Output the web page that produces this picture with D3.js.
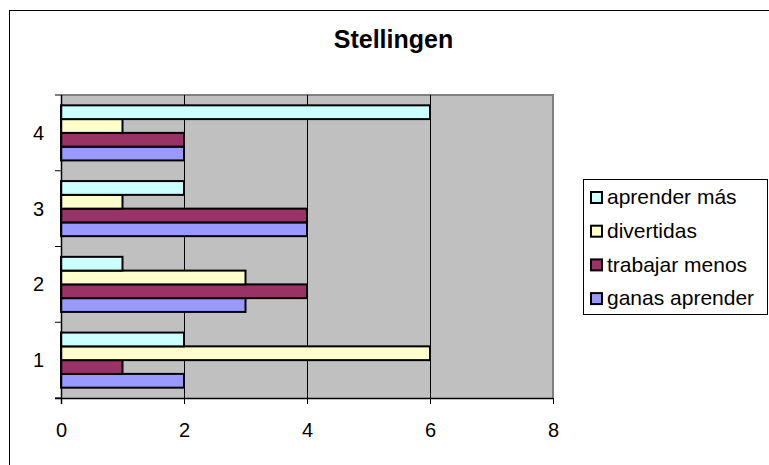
<!DOCTYPE html>
<html>
<head>
<meta charset="utf-8">
<script src="https://cdn.jsdelivr.net/npm/d3@7"></script>
<style>
  html, body { margin: 0; padding: 0; background: #fff; }
  svg { display: block; font-family: Arial, "Liberation Sans", sans-serif; }
</style>
</head>
<body>
<svg id="chart" width="769" height="465"></svg>
<script>
// Categories (bottom to top) and series values
const categories = ["1", "2", "3", "4"];
const seriesNames = ["ganas aprender", "trabajar menos", "divertidas", "aprender más"];
const ganasAprender = [2, 3, 4, 2];
const trabajarMenos = [1, 4, 4, 2];
const divertidas   = [6, 3, 1, 1];
const aprenderMas  = [2, 1, 2, 6];
const xTicks = [0, 2, 4, 6, 8];
const seriesColors = ["#9999FF", "#993366", "#FFFFCC", "#CCFFFF"];
const chartTitle = "Stellingen";

const seriesValues = [ganasAprender, trabajarMenos, divertidas, aprenderMas];

const svg = d3.select("#chart");

// Chart frame
svg.append("rect")
  .attr("x", 9.5).attr("y", 10.5)
  .attr("width", 800).attr("height", 500)
  .attr("fill", "#fff").attr("stroke", "#000").attr("stroke-width", 1);

const plot = { left: 61, right: 553, top: 95, bottom: 398 };

const x = d3.scaleLinear().domain([0, 8]).range([plot.left, plot.right]);
const y = d3.scaleBand().domain(categories.slice().reverse())
  .range([plot.top, plot.bottom]).paddingInner(0).paddingOuter(0);

// Plot area background
svg.append("rect")
  .attr("x", plot.left).attr("y", plot.top)
  .attr("width", plot.right - plot.left).attr("height", plot.bottom - plot.top)
  .attr("fill", "#C0C0C0");

// Plot area border (top and right)
svg.append("path")
  .attr("d", `M${plot.left},${plot.top} H${plot.right} V${plot.bottom}`)
  .attr("fill", "none").attr("stroke", "#808080").attr("stroke-width", 2);

// Vertical gridlines
svg.append("g").selectAll("line")
  .data(xTicks.filter(t => t > 0 && t < 8))
  .join("line")
  .attr("x1", d => x(d) + 0.5).attr("x2", d => x(d) + 0.5)
  .attr("y1", plot.top).attr("y2", plot.bottom)
  .attr("stroke", "#000").attr("stroke-width", 1);

// Bars: each band split into 4 bars with 150% gap
const band = y.bandwidth();
const barH = band / 5.5;
const gap = barH * 0.75;

const groups = svg.append("g").selectAll("g")
  .data(categories)
  .join("g")
  .attr("transform", c => `translate(0,${y(c)})`);

groups.selectAll("rect")
  .data((c, ci) => seriesValues.map((vals, si) => ({ si, v: vals[ci] })))
  .join("rect")
  .attr("x", x(0))
  .attr("y", d => gap + (3 - d.si) * barH)
  .attr("width", d => x(d.v) - x(0))
  .attr("height", barH)
  .attr("fill", d => seriesColors[d.si])
  .attr("stroke", "#000")
  .attr("stroke-width", 2);

// X axis
const xAxis = svg.append("g")
  .attr("transform", `translate(0,${plot.bottom})`)
  .call(d3.axisBottom(x).tickValues(xTicks).tickSize(6).tickPadding(18.5).tickFormat(d3.format("d")));
xAxis.select(".domain").attr("stroke", "#000").attr("stroke-width", 1.5)
  .attr("d", `M${plot.left - 6},0.5H${plot.right}`);
xAxis.selectAll(".tick line").attr("stroke", "#000");
xAxis.selectAll("text").attr("font-size", 20).attr("fill", "#000")
  .attr("font-family", "Arial, 'Liberation Sans', sans-serif");

// Y axis with ticks at band boundaries
const yAxis = svg.append("g").attr("transform", `translate(${plot.left},0)`);
yAxis.append("line")
  .attr("x1", 0.5).attr("x2", 0.5).attr("y1", plot.top).attr("y2", plot.bottom + 6)
  .attr("stroke", "#000").attr("stroke-width", 1.5);
const bounds = [plot.top].concat(categories.map(c => y(c) + band));
yAxis.selectAll("line.tk").data(bounds).join("line").attr("class", "tk")
  .attr("x1", -6).attr("x2", 0).attr("y1", d => d).attr("y2", d => d)
  .attr("stroke", "#000");
yAxis.selectAll("text").data(categories).join("text")
  .attr("x", -17).attr("y", c => y(c) + band / 2)
  .attr("dy", "0.35em").attr("text-anchor", "end")
  .attr("font-size", 20).text(c => c);

// Title
svg.append("text")
  .attr("x", 393.5).attr("y", 48)
  .attr("text-anchor", "middle")
  .attr("font-size", 25).attr("font-weight", "bold")
  .text(chartTitle);

// Legend (top entry = last series)
const legend = svg.append("g");
legend.append("rect")
  .attr("x", 583.5).attr("y", 179.5).attr("width", 184).attr("height", 135)
  .attr("fill", "#fff").attr("stroke", "#000").attr("stroke-width", 1);
const legendOrder = [3, 2, 1, 0];
const items = legend.selectAll("g.item").data(legendOrder).join("g").attr("class", "item")
  .attr("transform", (d, i) => `translate(0,${197 + i * 33.7})`);
items.append("rect")
  .attr("x", 591).attr("y", -5).attr("width", 11).attr("height", 11)
  .attr("fill", d => seriesColors[d]).attr("stroke", "#000").attr("stroke-width", 2);
items.append("text")
  .attr("x", 607).attr("y", 0).attr("dy", "0.35em")
  .attr("font-size", 21)
  .text(d => seriesNames[d]);
</script>
</body>
</html>
